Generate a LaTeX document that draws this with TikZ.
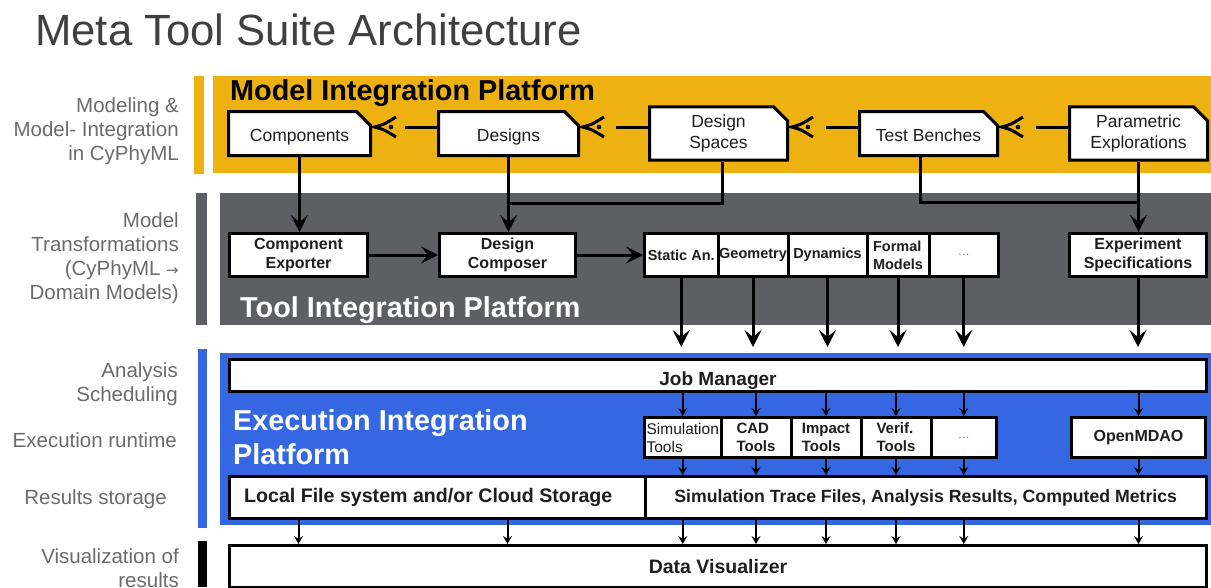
\documentclass[tikz,border=0pt]{standalone}
\usepackage{fontspec}
\setmainfont{Liberation Sans}
\newfontfamily\dejavu{DejaVu Sans}
\usetikzlibrary{arrows.meta,shapes.misc,calc}
\definecolor{myyellow}{RGB}{237,177,18}
\definecolor{mygray}{RGB}{94,95,99}
\definecolor{myblue}{RGB}{52,103,225}
\definecolor{lblgray}{RGB}{107,107,107}
\definecolor{titlegray}{RGB}{64,64,64}
\definecolor{boxtext}{RGB}{32,30,28}
\definecolor{dotgray}{RGB}{120,120,140}
\newcommand\mychev[2]{%
  \draw[line width=3pt] ($(#2.west)+(0,-6.5)$) -- ($(#2.west)+(-32,-6.5)$);
  \draw[line width=3pt] ($(#1.east)+(24,-16.5)$) .. controls ($(#1.east)+(12,-9)$) .. ($(#1.east)+(2.5,-6.5)$) .. controls ($(#1.east)+(12,-4)$) .. ($(#1.east)+(24,3.5)$);
  \fill ($(#1.east)+(19,-6.5)$) circle (2.3pt);
}
\begin{document}
\begin{tikzpicture}[x=1pt,y=-1pt,
  lbl/.style={font=\fontsize{20.5}{24}\selectfont, text=lblgray, align=right, anchor=north east, inner sep=0pt},
  bandtitle/.style={font=\fontsize{28.8}{34}\selectfont\bfseries, anchor=base west, inner sep=0pt},
  mbox/.style={chamfered rectangle, chamfered rectangle corners=north east, chamfered rectangle xsep=7pt, chamfered rectangle ysep=7pt, draw, line width=3pt, fill=white, minimum height=44pt, inner sep=1pt, align=center, font=\fontsize{17.5}{21}\selectfont, text=boxtext},
  low/.style={text height=15pt, text depth=0pt},
  tbox/.style={rectangle, draw, line width=3pt, fill=white, inner sep=1pt, align=center, font=\fontsize{16}{19}\selectfont\bfseries, text=boxtext},
  gbox/.style={tbox, minimum height=43pt, font=\fontsize{14.5}{18}\selectfont\bfseries, align=left},
  ebox/.style={tbox, minimum height=40pt, font=\fontsize{15}{18}\selectfont\bfseries, align=left},
  thk/.style={line width=3pt},
  bigarr/.style={thk, -{Stealth[length=17pt,width=17pt,inset=7pt]}},
  smallarr/.style={line width=2pt, -{Stealth[length=8pt,width=9pt,inset=3pt]}},
  dotsx/.style={font=\fontsize{12}{14}\selectfont\mdseries, text=dotgray}
]
\useasboundingbox (0,0) rectangle (1211,587);
\clip (0,0) rectangle (1211,587);

% bands
\fill[myyellow] (213,76) rectangle (1211,173);
\fill[myyellow] (194,76) rectangle (204,174);
\fill[mygray] (220,193) rectangle (1211,325);
\fill[mygray] (196,193) rectangle (207,325);
\fill[myblue] (220,353) rectangle (1211,525);
\fill[myblue] (198,349) rectangle (207,528);
\fill[black] (198,541) rectangle (207,587);

% title
\node[anchor=base west, inner sep=0pt, font=\fontsize{43.7}{50}\selectfont, text=titlegray] (title) at (35,45) {Meta Tool Suite Architecture};

% left labels
\node[lbl] (l1) at (179,97.2) {Modeling \&\\Model- Integration\\in CyPhyML};
\node[lbl] (l2) at (179,212.2) {Model\\Transformations\\(CyPhyML {\dejavu\fontsize{15}{24}\selectfont →}\\Domain Models)};
\node[lbl] (l3) at (178,362.8) {Analysis\\Scheduling};
\node[lbl] (l4) at (177,432.3) {Execution runtime};
\node[lbl] (l5) at (167,489.3) {Results storage};
\node[lbl] (l6) at (179,548.2) {Visualization of\\results};

% band titles
\node[bandtitle] (mip) at (230,100) {Model Integration Platform};
\node[bandtitle, text=white] (tip) at (240,317) {Tool Integration Platform};
\node[bandtitle, text=white, align=left, anchor=north west] (eip) at (233,409.5) {Execution Integration\\Platform};

% row 1
\node[mbox, low, minimum width=142pt] (comp) at (299.5,133.5) {Components};
\node[mbox, low, minimum width=140pt] (des) at (508.5,133.5) {Designs};
\node[mbox, minimum width=138pt, yshift=0pt] (dsp) at (718.5,133.5) {Design\\Spaces};
\node[mbox, low, minimum width=138pt] (tb) at (928.5,133.5) {Test Benches};
\node[mbox, minimum width=138pt] (pe) at (1138.5,133.5) {Parametric\\Explorations};

\mychev{comp}{des}
\mychev{des}{dsp}
\mychev{dsp}{tb}
\mychev{tb}{pe}

% row 2
\node[tbox, minimum width=138pt, minimum height=43pt] (cexp) at (298.5,255) {Component\\Exporter};
\node[tbox, minimum width=136pt, minimum height=43pt] (dcomp) at (507.5,255) {Design\\Composer};
\node[gbox, minimum width=73.5pt] (sa) at (681.25,255) {Static An.};
\node[gbox, minimum width=70pt] (geo) at (753,255) {Geometry};
\node[gbox, minimum width=79pt] (dyn) at (827.5,255) {Dynamics};
\node[gbox, minimum width=62pt] (fm) at (898,255) {Formal\\Models};
\node[gbox, minimum width=69.5pt, dotsx] (gdots) at (963.75,255) {…};
\node[tbox, minimum width=137pt, minimum height=43pt] (exps) at (1138,255) {Experiment\\Specifications};

% row1 -> row2
\coordinate (j1) at (0,203);
\coordinate (j2) at (0,202);
\draw[bigarr] (comp.south) -- (comp.south |- cexp.north);
\draw[bigarr] (des.south) -- (des.south |- dcomp.north);
\draw[thk] ([xshift=3.5pt]dsp.south) |- (des.south |- j1);
\draw[thk] ([xshift=-8.5pt]tb.south) |- (pe.south |- j2);
\draw[bigarr] (pe.south) -- (pe.south |- exps.north);

\draw[bigarr] (cexp.east) -- (dcomp.west);
\draw[bigarr] (dcomp.east) -- (sa.west);

% execution platform
\node[tbox, minimum width=977pt, minimum height=32pt, text height=20pt, text depth=0pt, font=\fontsize{19}{22}\selectfont\bfseries] (jm) at (718,375.5) {Job Manager};

\foreach \n in {sa,geo,dyn,fm,gdots,exps}
  \draw[bigarr, shorten >=11pt] (\n.south) -- (\n.south |- jm.north);

\node[ebox, minimum width=76.5pt, font=\fontsize{15.5}{18}\selectfont] (sim) at (682.75,437.5) {Simulation\\Tools};
\node[ebox, minimum width=70pt] (cad) at (756,437.5) {CAD\\Tools};
\node[ebox, minimum width=70pt] (imp) at (826,437.5) {Impact\\Tools};
\node[ebox, minimum width=70pt] (ver) at (896,437.5) {Verif.\\Tools};
\node[ebox, minimum width=65.5pt, dotsx] (edots) at (963.75,437.5) {…};
\node[ebox, minimum width=134pt, font=\fontsize{16}{19}\selectfont\bfseries] (omd) at (1138.5,437.5) {OpenMDAO};

\foreach \n in {sim,cad,imp,ver,edots,omd}
  \draw[smallarr] (\n.north |- jm.south) -- (\n.north);

\node[tbox, minimum width=415.5pt, minimum height=42pt, font=\fontsize{19.6}{22}\selectfont\bfseries] (loc) at (437.25,497.5) {Local File system and/or Cloud Storage\hspace*{18pt}};
\node[tbox, minimum width=561.5pt, minimum height=42pt, font=\fontsize{17.7}{21}\selectfont\bfseries] (str) at (925.75,497.5) {Simulation Trace Files, Analysis Results, Computed Metrics};

\foreach \n in {sim,cad,imp,ver,edots,omd}
  \draw[smallarr] (\n.south) -- (\n.south |- str.north);

% data visualizer
\node[tbox, minimum width=977pt, minimum height=42pt, font=\fontsize{19.5}{22}\selectfont\bfseries] (dv) at (718,566.5) {Data Visualizer};

\draw[smallarr] (cexp.south |- loc.south) -- (cexp.south |- dv.north);
\draw[smallarr] (dcomp.south |- loc.south) -- (dcomp.south |- dv.north);
\foreach \n in {sim,cad,imp,ver,edots,omd}
  \draw[smallarr] (\n.south |- str.south) -- (\n.south |- dv.north);
\end{tikzpicture}
\end{document}
